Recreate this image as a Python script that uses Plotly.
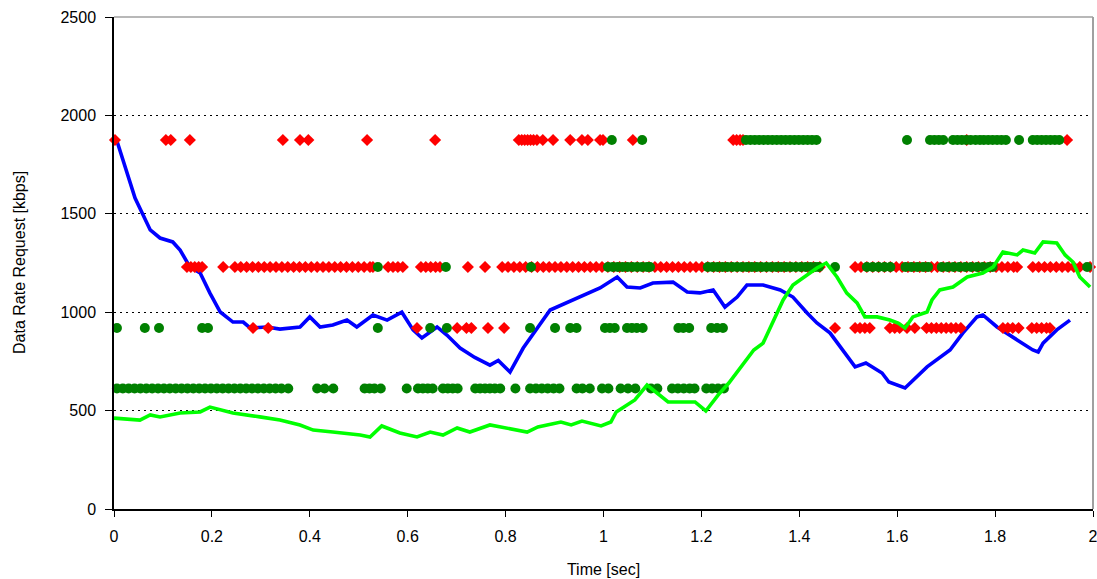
import plotly.graph_objects as go

# ---- data ----
blue_t = [0.006, 0.022, 0.043, 0.074, 0.094, 0.120, 0.135, 0.155, 0.176, 0.196,
          0.217, 0.243, 0.264, 0.278, 0.313, 0.339, 0.380, 0.400, 0.421, 0.447,
          0.476, 0.496, 0.529, 0.558, 0.588, 0.611, 0.629, 0.660, 0.680, 0.707,
          0.737, 0.768, 0.785, 0.809, 0.836, 0.891, 0.952, 0.993, 1.028, 1.048,
          1.075, 1.101, 1.142, 1.171, 1.197, 1.224, 1.248, 1.273, 1.293, 1.326,
          1.361, 1.387, 1.416, 1.436, 1.463, 1.489, 1.514, 1.536, 1.569, 1.583,
          1.616, 1.661, 1.708, 1.734, 1.763, 1.775, 1.804, 1.845, 1.877, 1.888,
          1.898, 1.926, 1.953]
blue_v = [1870, 1750, 1580, 1418, 1377, 1357, 1316, 1230, 1199, 1097,
          1001, 950, 950, 920, 925, 914, 925, 976, 925, 935,
          960, 925, 986, 960, 1000, 910, 869, 925, 884, 818,
          770, 731, 755, 696, 818, 1011, 1077, 1123, 1179, 1128,
          1123, 1148, 1153, 1103, 1098, 1113, 1026, 1077, 1138, 1138,
          1113, 1077, 996, 945, 894, 808, 722, 742, 691, 645,
          615, 722, 808, 894, 976, 986, 925, 859, 808, 798,
          843, 910, 960]

green_t = [0.000, 0.053, 0.074, 0.094, 0.135, 0.176, 0.196, 0.243, 0.298, 0.339,
           0.380, 0.407, 0.447, 0.503, 0.523, 0.547, 0.584, 0.619, 0.646, 0.672,
           0.701, 0.727, 0.768, 0.789, 0.819, 0.844, 0.866, 0.913, 0.934, 0.956,
           0.995, 1.015, 1.026, 1.046, 1.064, 1.089, 1.107, 1.132, 1.154, 1.187,
           1.209, 1.234, 1.256, 1.287, 1.307, 1.326, 1.367, 1.387, 1.416, 1.436,
           1.455, 1.477, 1.497, 1.518, 1.534, 1.559, 1.585, 1.602, 1.616, 1.632,
           1.661, 1.671, 1.687, 1.714, 1.743, 1.775, 1.796, 1.816, 1.845, 1.857,
           1.881, 1.898, 1.926, 1.943, 1.959, 1.973, 1.994]
green_v = [462, 452, 478, 468, 488, 493, 518, 488, 468, 452,
           427, 401, 391, 376, 366, 422, 386, 366, 391, 376,
           412, 391, 427, 417, 401, 391, 417, 442, 427, 447,
           422, 442, 493, 528, 554, 630, 594, 544, 544, 544,
           498, 579, 640, 742, 808, 843, 1062, 1138, 1189, 1225,
           1250, 1179, 1097, 1047, 976, 976, 960, 945, 920, 976,
           1001, 1062, 1113, 1128, 1179, 1199, 1230, 1306, 1291, 1316,
           1301, 1357, 1352, 1291, 1255, 1179, 1128]

# rate levels (kbps)
level_high = 1875
level_mid = 1230
level_low = 920
level_min = 612

red_high_t = [0.002, 0.106, 0.116, 0.155, 0.345, 0.380, 0.397, 0.517, 0.656,
              0.827, 0.833, 0.839, 0.845, 0.851, 0.857, 0.864, 0.876, 0.897,
              0.932, 0.956, 0.968, 0.993, 0.999, 1.060,
              1.265, 1.272, 1.279, 1.285, 1.742, 1.947]
green_high_t = [1.017, 1.079,
                1.291, 1.300, 1.309, 1.318, 1.327, 1.336, 1.345, 1.354, 1.363,
                1.372, 1.381, 1.390, 1.399, 1.408, 1.417, 1.426, 1.435,
                1.620, 1.667, 1.676, 1.685, 1.694,
                1.714, 1.723, 1.732, 1.741, 1.750, 1.760, 1.769,
                1.777, 1.786, 1.795, 1.804, 1.813, 1.822,
                1.849, 1.877, 1.886, 1.895, 1.904, 1.913, 1.922, 1.931]

red_mid_t = [0.149, 0.157, 0.165, 0.173, 0.180, 0.223,
             0.247, 0.259, 0.271, 0.283, 0.295, 0.307, 0.319, 0.331, 0.343, 0.355,
             0.367, 0.379, 0.391, 0.403, 0.415, 0.427, 0.439, 0.451, 0.463, 0.475,
             0.487, 0.499, 0.511, 0.523, 0.529,
             0.560, 0.570, 0.580, 0.590,
             0.627, 0.637, 0.647, 0.657, 0.666,
             0.723, 0.758, 0.793,
             0.805, 0.817, 0.829, 0.841, 0.853, 0.865, 0.877, 0.889, 0.901, 0.913,
             0.925, 0.937, 0.949, 0.961, 0.973, 0.985, 0.997, 1.009, 1.021, 1.033,
             1.045, 1.057, 1.069, 1.081, 1.093, 1.105, 1.117, 1.129, 1.141, 1.153,
             1.165, 1.177, 1.189, 1.201, 1.213, 1.225, 1.237, 1.249, 1.261, 1.273,
             1.285, 1.297, 1.309, 1.321, 1.333, 1.345, 1.357, 1.369, 1.381, 1.393,
             1.405, 1.417, 1.429, 1.442,
             1.514, 1.526, 1.538, 1.550, 1.562, 1.574, 1.586, 1.598, 1.610, 1.622,
             1.634, 1.646, 1.658, 1.670, 1.682, 1.694, 1.706, 1.718, 1.730, 1.742,
             1.754, 1.766, 1.778, 1.790, 1.802, 1.814, 1.826, 1.838, 1.845,
             1.877, 1.889, 1.901, 1.913, 1.925, 1.937, 1.949, 1.961, 1.973, 1.994]
green_mid_t = [0.539, 0.678, 0.852,
               1.009, 1.019, 1.029, 1.039, 1.049, 1.059, 1.069, 1.079, 1.089, 1.095,
               1.213, 1.223, 1.233, 1.243, 1.253, 1.263, 1.273, 1.283, 1.293, 1.303,
               1.313, 1.323, 1.333, 1.343, 1.353, 1.363, 1.373, 1.383, 1.393, 1.403,
               1.413, 1.423, 1.433, 1.440,
               1.473,
               1.538, 1.550, 1.562, 1.574, 1.586,
               1.617, 1.629, 1.641, 1.653, 1.663,
               1.691, 1.703, 1.715, 1.727, 1.739, 1.751, 1.763, 1.775, 1.787, 1.795,
               1.988]

red_low_t = [0.284, 0.315, 0.619, 0.701, 0.720, 0.730, 0.764, 0.797,
             1.473, 1.514, 1.524, 1.534, 1.544, 1.585, 1.595, 1.605, 1.620, 1.636,
             1.660, 1.670, 1.680, 1.690, 1.700, 1.710, 1.720, 1.730,
             1.816, 1.826, 1.836, 1.848, 1.875, 1.885, 1.895, 1.905, 1.912]
green_low_t = [0.006, 0.063, 0.092, 0.180, 0.192, 0.539, 0.646, 0.680,
               0.850, 0.901, 0.932, 0.945, 1.003, 1.013, 1.023, 1.048, 1.058,
               1.068, 1.080, 1.153, 1.163, 1.175, 1.220, 1.232, 1.244]

green_min_t = [0.006, 0.018, 0.030, 0.042, 0.054, 0.066, 0.078, 0.090, 0.102, 0.114,
               0.126, 0.138, 0.150, 0.162, 0.174, 0.186, 0.198, 0.210, 0.222, 0.234,
               0.246, 0.258, 0.270, 0.282, 0.294, 0.306, 0.318, 0.330, 0.342, 0.356,
               0.415, 0.430, 0.448, 0.512, 0.522, 0.532, 0.545, 0.598,
               0.621, 0.631, 0.641, 0.651, 0.672, 0.682, 0.692, 0.702,
               0.738, 0.748, 0.758, 0.768, 0.778, 0.789,
               0.820, 0.850, 0.862, 0.874, 0.886, 0.898, 0.910, 0.945, 0.957, 0.972,
               0.997, 1.010, 1.035, 1.050, 1.065, 1.097, 1.110,
               1.140, 1.152, 1.164, 1.176, 1.186, 1.210, 1.222, 1.234, 1.246]

x_ticks = [0, 0.2, 0.4, 0.6, 0.8, 1.0, 1.2, 1.4, 1.6, 1.8, 2.0]
x_tick_labels = ["0", "0.2", "0.4", "0.6", "0.8", "1", "1.2", "1.4", "1.6", "1.8", "2"]
y_ticks = [0, 500, 1000, 1500, 2000, 2500]
y_tick_labels = ["0", "500", "1000", "1500", "2000", "2500"]

# ---- assemble marker series ----
red_x = red_high_t + red_mid_t + red_low_t
red_y = [level_high] * len(red_high_t) + [level_mid] * len(red_mid_t) + [level_low] * len(red_low_t)
grn_x = green_high_t + green_mid_t + green_low_t + green_min_t
grn_y = ([level_high] * len(green_high_t) + [level_mid] * len(green_mid_t)
         + [level_low] * len(green_low_t) + [level_min] * len(green_min_t))

fig = go.Figure()
fig.add_trace(go.Scatter(x=blue_t, y=blue_v, mode="lines",
                         line=dict(color="#0000FF", width=3.6), hoverinfo="skip"))
fig.add_trace(go.Scatter(x=red_x, y=red_y, mode="markers", cliponaxis=False,
                         marker=dict(symbol="diamond", size=9.3, color="#FF0000",
                                     line=dict(width=0))))
fig.add_trace(go.Scatter(x=grn_x, y=grn_y, mode="markers", cliponaxis=False,
                         marker=dict(symbol="circle", size=10, color="#008000",
                                     line=dict(width=0))))
fig.add_trace(go.Scatter(x=green_t, y=green_v, mode="lines",
                         line=dict(color="#00FF00", width=3.6), hoverinfo="skip"))

tick_font = dict(family="Liberation Sans, Arial, sans-serif", size=16, color="black")

fig.update_layout(
    width=1097, height=579,
    margin=dict(l=114, r=4, t=17, b=70, autoexpand=False),
    plot_bgcolor="white", paper_bgcolor="white",
    showlegend=False,
    font=dict(family="Liberation Sans, Arial, sans-serif", color="black"),
    xaxis=dict(range=[0, 2], tickvals=x_ticks, ticktext=x_tick_labels,
               ticks="outside", ticklen=6, tickwidth=1, tickcolor="black",
               showline=True, linecolor="black", linewidth=1.5,
               showgrid=False, zeroline=False, tickfont=tick_font,
               ticklabeloverflow="allow", ticklabelstandoff=6, automargin=False,
               title=dict(text="Time [sec]", font=dict(size=16), standoff=20)),
    yaxis=dict(range=[0, 2500], tickvals=y_ticks, ticktext=y_tick_labels,
               ticks="outside", ticklen=7, tickwidth=1, tickcolor="black",
               showline=True, linecolor="black", linewidth=1.5,
               showgrid=True, gridcolor="black", gridwidth=1.3, griddash="2px,4px",
               zeroline=False, tickfont=tick_font, ticklabelstandoff=6,
               ticklabeloverflow="allow", automargin=False),
    shapes=[
        dict(type="line", xref="paper", yref="paper", x0=0, x1=1, y0=1, y1=1,
             line=dict(color="#A0A0A0", width=1.5), layer="above"),
        dict(type="line", xref="paper", yref="paper", x0=1, x1=1, y0=0, y1=1,
             line=dict(color="#A0A0A0", width=2), layer="above"),
    ],
    annotations=[
        dict(text="Data Rate Request [kbps]", xref="paper", yref="paper",
             x=-114 / 979 + 19 / 979, y=0.5, xanchor="center", yanchor="middle",
             textangle=-90, showarrow=False,
             font=dict(size=16, family="Liberation Sans, Arial, sans-serif", color="black")),
    ],
)

fig.write_html("out.html")
